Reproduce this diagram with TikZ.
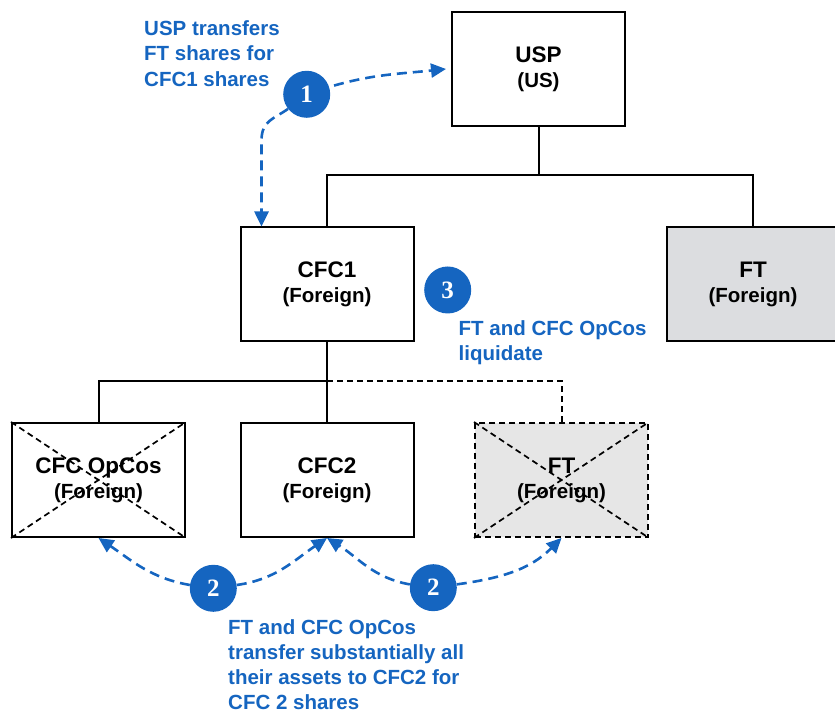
\documentclass[tikz,border=0pt]{standalone}
\usepackage{fontspec}
\setmainfont{Liberation Sans}
\newfontfamily\numfont{Liberation Serif}
\usetikzlibrary{arrows.meta,calc}
\definecolor{stepblue}{RGB}{21,101,192}
\definecolor{ftgray}{RGB}{220,221,224}
\definecolor{gonegray}{RGB}{230,230,230}
\newcommand\enttitle[1]{{\fontsize{22.5}{25}\selectfont #1}}
\begin{document}
\begin{tikzpicture}[x=1pt,y=1pt,
  entity/.style={draw=black, line width=2pt, minimum width=173pt,
    minimum height=114pt, inner sep=0pt, align=center,
    font=\fontsize{20.5}{25}\selectfont\bfseries},
  gone/.style={entity, dash pattern=on 6pt off 4pt, fill=gonegray},
  tie/.style={draw=black, line width=2pt},
  tiedash/.style={tie, dash pattern=on 6pt off 4pt},
  cross/.style={draw=black, line width=1.7pt, dash pattern=on 6pt off 4pt},
  stepnum/.style={circle, fill=stepblue, minimum size=47pt, inner sep=0pt,
    text=white, font=\numfont\bfseries\fontsize{25}{25}\selectfont},
  flow/.style={stepblue, line width=2.6pt, dash pattern=on 10pt off 6pt,
    -{Triangle[length=15pt,width=14pt]}},
  note/.style={text=stepblue, font=\fontsize{20.5}{25.5}\selectfont\bfseries,
    align=left, inner sep=0pt}
]
\clip (0,0) rectangle (835,714);
\useasboundingbox (0,0) rectangle (835,714);

% entities
\node[entity] (usp) at (538.5,645) {\enttitle{USP}\\(US)};
\node[entity] (cfc1) at (327,429.5) {\enttitle{CFC1}\\(Foreign)};
\node[entity, fill=ftgray] (ft) at (753,429.5) {\enttitle{FT}\\(Foreign)};
\node[entity] (opcos) at (98.5,234) {\enttitle{CFC OpCos}\\(Foreign)};
\node[entity] (cfc2) at (327,234) {\enttitle{CFC2}\\(Foreign)};
\node[gone] (ftd) at (561.5,234) {\enttitle{FT}\\(Foreign)};

% ownership lines
\coordinate (bus1) at (538.5,539);
\coordinate (bus2) at (327,333);
\draw[tie] (usp.south) -- (bus1);
\draw[tie] (cfc1.north) |- (bus1) -| (ft.north);
\draw[tie] (cfc1.south) -- (cfc2.north);
\draw[tie] (bus2) -| (opcos.north);
\draw[tiedash] (bus2) -| (ftd.north);

% liquidated entities are crossed out
\draw[cross] (opcos.north west) -- (opcos.south east);
\draw[cross] (opcos.south west) -- (opcos.north east);
\draw[cross] (ftd.north west) -- (ftd.south east);
\draw[cross] (ftd.south west) -- (ftd.north east);

% step markers
\node[stepnum] (c1) at (306.7,619.7) {1};
\node[stepnum] (c3) at (447.7,424) {3};
\node[stepnum] (c2a) at (213.3,125.7) {2};
\node[stepnum] (c2b) at (433.3,126.3) {2};

% step 1: share exchange
\coordinate (a1top) at ($(usp.west)+(-5,0)$);
\coordinate (a1low) at ($(cfc1.north west)+(22,0)$);
\coordinate (a1bend) at ($(a1low)+(0,86)$);
\draw[flow, shorten <=5pt] (c1.18) to[out=16,in=186] (a1top);
\draw[flow] (c1.218) .. controls +(-14,-10) and +(0,20) .. (a1bend) -- (a1low);

% step 2: asset transfers
\draw[flow] (c2a.172) to[out=170,in=-34] (opcos.south);
\draw[flow] (c2a.8) to[out=8,in=214] (cfc2.south);
\draw[flow] (c2b.172) to[out=170,in=-32] (cfc2.south);
\draw[flow] (c2b.8) to[out=8,in=225] (ftd.south);

% step descriptions
\node[note, anchor=north west] (n1) at (144,694)
  {USP transfers\\FT shares for\\CFC1 shares};
\node[note, anchor=north west] (n3) at (458.5,394)
  {FT and CFC OpCos\\liquidate};
\node[note, anchor=north west, font=\fontsize{20.5}{25}\selectfont\bfseries]
  (n2) at (228,95)
  {FT and CFC OpCos\\transfer substantially all\\their assets to CFC2 for\\CFC 2 shares};
\end{tikzpicture}
\end{document}
